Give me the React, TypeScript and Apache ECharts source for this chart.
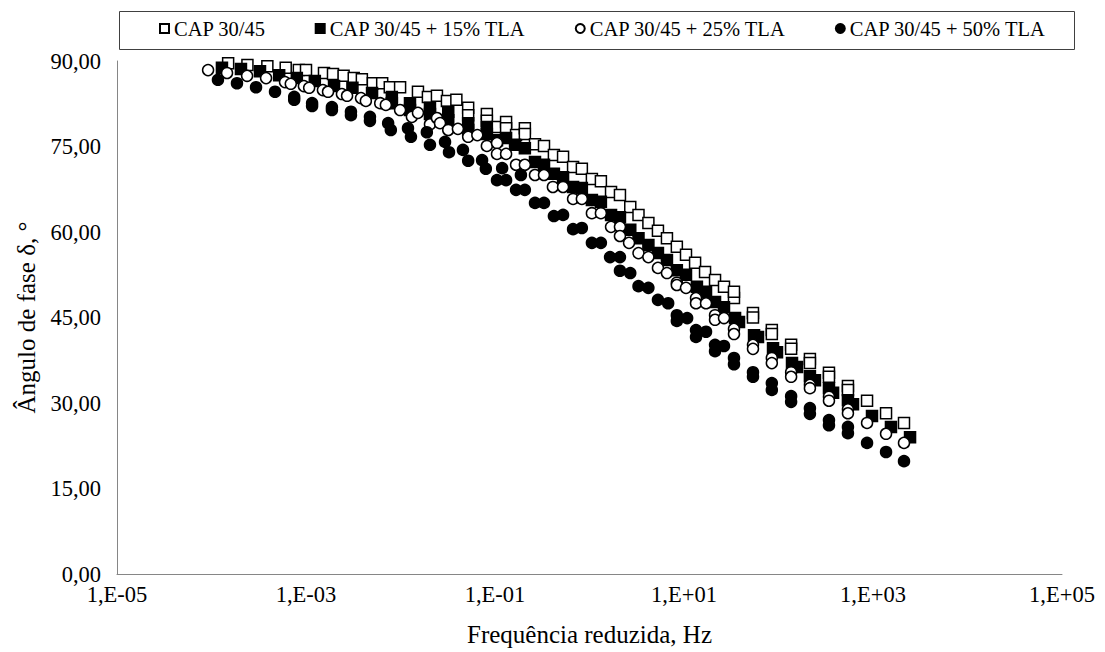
import React, { useEffect, useRef } from "react";
import * as echarts from "echarts";

const seriesNames = [
  "CAP 30/45",
  "CAP 30/45 + 15% TLA",
  "CAP 30/45 + 25% TLA",
  "CAP 30/45 + 50% TLA",
];

// [reduced frequency (Hz), phase angle (deg)]
const cap3045: [number, number][] = [
  [1.5e-4, 89.6], [2.4e-4, 89.3], [3.9e-4, 89.1], [6.1e-4, 88.8], [8.4e-4, 88.4], [1.0e-3, 88.4],
  [1.55e-3, 87.9], [1.93e-3, 87.7], [2.5e-3, 87.4], [3.2e-3, 87.0], [3.9e-3, 86.8], [5.1e-3, 86.1],
  [6.4e-3, 86.1], [7.7e-3, 85.4], [9.9e-3, 85.4], [1.53e-2, 84.6], [1.95e-2, 83.7], [2.43e-2, 83.9],
  [3.1e-2, 83.0], [3.9e-2, 83.2], [5.2e-2, 81.8], [5.2e-2, 80.5], [8.2e-2, 80.7], [8.2e-2, 79.5],
  [0.105, 78.4], [0.131, 79.3], [0.131, 78.2], [0.167, 77.0], [0.207, 78.2], [0.207, 77.2],
  [0.265, 75.4], [0.33, 75.1], [0.42, 73.5], [0.525, 73.2], [0.67, 71.4], [0.83, 71.1],
  [1.06, 69.3], [1.32, 68.9], [1.69, 67.0], [2.1, 66.5], [2.7, 64.4], [3.3, 63.0],
  [4.2, 61.6], [5.3, 60.2], [6.6, 58.9], [8.4, 57.4], [10.5, 56.0], [13.1, 54.6],
  [16.7, 53.0], [21.3, 51.6], [26.5, 50.4], [33.8, 48.4], [33.8, 49.5], [53.7, 45.8],
  [53.7, 45.0], [85, 42.8], [85, 42.1], [136, 40.2], [136, 39.5], [215, 37.7],
  [215, 37.0], [342, 35.3], [342, 34.6], [543, 33.0], [543, 32.3], [865, 30.4],
  [1374, 28.2], [2128, 26.5],
];

const tla15: [number, number][] = [
  [1.29e-4, 88.8], [2.05e-4, 88.6], [3.26e-4, 88.2], [5.2e-4, 87.5], [8.0e-4, 87.0], [1.24e-3, 86.5],
  [1.98e-3, 85.6], [3.1e-3, 85.3], [5.0e-3, 84.4], [8.1e-3, 83.7], [8.1e-3, 82.6], [1.26e-2, 82.6],
  [1.26e-2, 81.4], [2.05e-2, 81.8], [2.05e-2, 80.7], [3.2e-2, 81.1], [3.2e-2, 79.6], [5.2e-2, 79.1],
  [5.2e-2, 77.9], [8.2e-2, 78.4], [8.2e-2, 77.2], [0.105, 76.1], [0.131, 76.5], [0.163, 75.3],
  [0.207, 74.7], [0.265, 72.3], [0.33, 71.8], [0.42, 70.2], [0.525, 69.6], [0.67, 67.9],
  [0.83, 67.7], [1.06, 65.6], [1.32, 65.3], [1.69, 63.0], [2.1, 62.6], [2.7, 60.4],
  [3.3, 58.9], [4.2, 57.7], [5.3, 56.3], [6.6, 55.1], [8.4, 53.3], [10.5, 52.5],
  [13.7, 50.4], [17.1, 49.5], [21.3, 47.7], [26.5, 46.8], [34.7, 44.9], [38.2, 44.2],
  [55.1, 41.9], [60.7, 41.6], [87.5, 39.6], [96.4, 38.9], [139, 37.0], [157, 36.3],
  [215, 34.7], [243, 34.0], [342, 32.6], [378, 31.8], [543, 30.5], [614, 29.8],
  [976, 27.7], [1549, 25.8], [2466, 24.0],
];

const tla25: [number, number][] = [
  [9.2e-5, 88.4], [1.46e-4, 87.9], [2.38e-4, 87.4], [3.78e-4, 87.0], [6.0e-4, 86.3], [6.9e-4, 86.0],
  [9.5e-4, 85.6], [1.08e-3, 85.3], [1.51e-3, 84.9], [1.71e-3, 84.6], [2.4e-3, 84.2], [2.72e-3, 83.9],
  [3.82e-3, 83.5], [4.3e-3, 83.0], [6.1e-3, 82.6], [7.0e-3, 82.3], [9.9e-3, 81.4], [1.32e-2, 80.2],
  [1.53e-2, 80.9], [2.05e-2, 78.9], [2.43e-2, 80.0], [2.62e-2, 79.1], [3.2e-2, 77.9], [4.05e-2, 78.1],
  [5.2e-2, 76.7], [6.5e-2, 77.0], [8.2e-2, 75.1], [0.105, 75.6], [0.105, 73.7], [0.131, 73.7],
  [0.167, 71.8], [0.207, 71.8], [0.265, 70.0], [0.33, 70.0], [0.41, 67.9], [0.525, 67.9],
  [0.67, 65.8], [0.83, 65.8], [1.06, 63.3], [1.32, 63.3], [1.69, 60.9], [2.1, 60.9],
  [2.1, 59.3], [2.62, 58.1], [3.3, 56.3], [4.2, 55.6], [5.3, 53.7], [6.6, 52.8],
  [8.4, 51.1], [8.4, 50.7], [10.5, 50.2], [13.4, 48.4], [13.4, 47.5], [17.1, 47.5],
  [21.3, 45.4], [21.3, 44.6], [26.5, 44.9], [33.8, 43.0], [33.8, 42.1], [53.7, 40.2],
  [53.7, 39.5], [85, 37.9], [85, 37.0], [136, 35.4], [136, 34.6], [215, 33.2],
  [215, 32.6], [342, 31.1], [342, 30.4], [543, 28.9], [543, 28.2], [865, 26.5],
  [1374, 24.6], [2128, 23.0],
];

const tla50: [number, number][] = [
  [1.17e-4, 86.7], [1.86e-4, 86.1], [2.96e-4, 85.4], [4.7e-4, 84.6], [7.5e-4, 83.7], [7.5e-4, 83.2],
  [1.16e-3, 82.6], [1.16e-3, 82.1], [1.88e-3, 81.9], [1.88e-3, 81.4], [2.99e-3, 81.1], [2.99e-3, 80.5],
  [4.75e-3, 80.2], [4.75e-3, 79.5], [7.4e-3, 79.1], [7.9e-3, 77.9], [1.2e-2, 78.2], [1.29e-2, 76.7],
  [1.9e-2, 77.5], [2.05e-2, 75.3], [2.96e-2, 75.8], [3.26e-2, 74.0], [4.58e-2, 74.4], [5.2e-2, 72.5],
  [7.3e-2, 72.6], [8.0e-2, 71.1], [0.105, 69.1], [0.119, 71.2], [0.131, 69.1], [0.167, 67.4],
  [0.188, 70.0], [0.207, 67.4], [0.265, 65.1], [0.33, 65.1], [0.42, 62.8], [0.525, 63.0],
  [0.67, 60.5], [0.83, 60.7], [1.06, 58.1], [1.32, 58.1], [1.65, 55.6], [2.1, 55.6],
  [2.1, 53.2], [2.7, 52.8], [3.3, 50.5], [4.2, 50.2], [5.3, 48.1], [6.8, 47.5],
  [8.4, 45.4], [8.4, 44.4], [10.8, 44.9], [13.4, 42.8], [13.4, 41.6], [17.1, 42.5],
  [21.3, 40.2], [21.3, 39.1], [26.5, 40.0], [33.8, 37.9], [33.8, 36.8], [53.7, 35.4],
  [53.7, 34.6], [85, 33.5], [85, 32.3], [136, 31.2], [136, 30.2], [215, 29.1],
  [215, 28.1], [342, 27.0], [342, 26.1], [543, 25.8], [543, 24.7], [865, 23.0],
  [1374, 21.4], [2128, 19.8],
];

const xMin = 1e-5;
const xMax = 1e5;
const yMin = 0;
const yMax = 90;
const yStep = 15;

const FONT = "'Liberation Serif', 'Times New Roman', serif";

function fmtX(v: number): string {
  const e = Math.round(Math.log10(v));
  const sign = e < 0 ? "-" : "+";
  const a = Math.abs(e);
  return "1,E" + sign + (a < 10 ? "0" + a : String(a));
}

function fmtY(v: number): string {
  return v.toFixed(2).replace(".", ",");
}

export default function App() {
  const ref = useRef<HTMLDivElement>(null);

  useEffect(() => {
    if (!ref.current) return;
    const chart = echarts.init(ref.current, undefined, { renderer: "svg" });

    const symbols = ["rect", "rect", "circle", "circle"];
    const fills = ["#ffffff", "#000000", "#ffffff", "#000000"];
    const datasets = [cap3045, tla15, tla25, tla50];

    chart.setOption({
      animation: false,
      backgroundColor: "#ffffff",
      textStyle: { fontFamily: FONT, color: "#000" },
      graphic: [
        {
          type: "rect",
          left: 117,
          top: 9,
          shape: { width: 955, height: 38 },
          style: { fill: "none", stroke: "#404040", lineWidth: 1 },
          silent: true,
        },
      ],
      legend: {
        left: 154,
        top: 13,
        itemGap: 49,
        itemWidth: 9,
        itemHeight: 9,
        textStyle: { fontFamily: FONT, fontSize: 20.5, color: "#000" },
        data: seriesNames,
      },
      grid: {
        left: 117,
        right: 43,
        top: 61,
        bottom: 78,
        containLabel: false,
        outerBoundsMode: "none",
      },
      xAxis: {
        type: "log",
        logBase: 10,
        min: xMin,
        max: xMax,
        interval: 2,
        name: "Frequência reduzida, Hz",
        nameLocation: "middle",
        nameGap: 48,
        nameTextStyle: { fontFamily: FONT, fontSize: 25, color: "#000" },
        axisLine: { show: true, lineStyle: { color: "#868686", width: 1 } },
        axisTick: { show: false },
        splitLine: { show: false },
        minorTick: { show: false },
        axisLabel: {
          fontFamily: FONT,
          fontSize: 22.5,
          color: "#000",
          margin: 9,
          formatter: (v: number) => fmtX(v),
        },
      },
      yAxis: {
        type: "value",
        min: yMin,
        max: yMax,
        interval: yStep,
        name: "Ângulo de fase δ, °",
        nameLocation: "middle",
        nameGap: 70,
        nameRotate: 90,
        nameTextStyle: { fontFamily: FONT, fontSize: 25, color: "#000" },
        axisLine: { show: true, lineStyle: { color: "#868686", width: 1 } },
        axisTick: { show: false },
        splitLine: { show: false },
        axisLabel: {
          fontFamily: FONT,
          fontSize: 22.5,
          color: "#000",
          margin: 16,
          formatter: (v: number) => fmtY(v),
        },
      },
      series: datasets.map((d, i) => ({
        name: seriesNames[i],
        type: "scatter",
        symbol: symbols[i],
        symbolSize: 11,
        data: d,
        itemStyle: {
          color: fills[i],
          borderColor: "#000000",
          borderWidth: 1.5,
          opacity: 1,
        },
        emphasis: { disabled: true },
      })),
    });

    return () => {
      chart.dispose();
    };
  }, []);

  return (
    <div
      ref={ref}
      style={{ position: "fixed", left: 0, top: 0, width: 1105, height: 652, background: "#fff" }}
    />
  );
}
